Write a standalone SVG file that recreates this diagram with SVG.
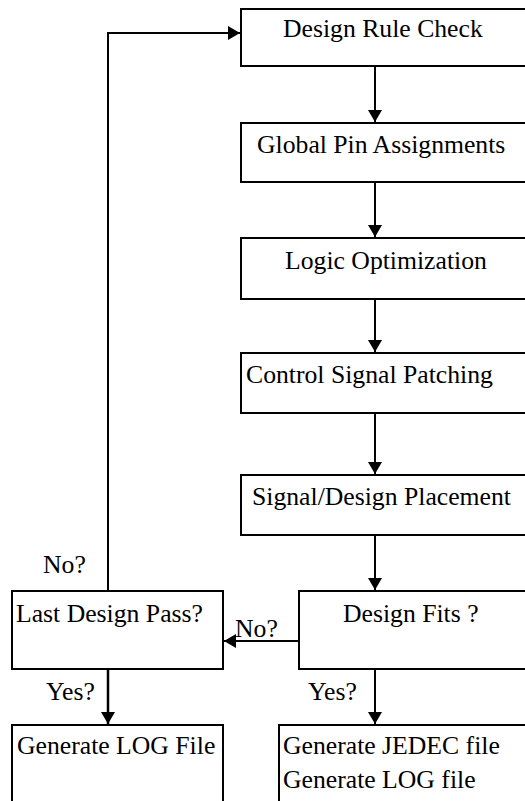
<svg xmlns="http://www.w3.org/2000/svg" width="525" height="801" viewBox="0 0 525 801">
<defs>
<style>
.box{fill:#fff;stroke:#000;stroke-width:2}
.c{fill:none;stroke:#000;stroke-width:2}
</style>
<marker id="ah" markerWidth="14" markerHeight="14" viewBox="0 0 12 14" refX="12" refY="7" orient="auto" markerUnits="userSpaceOnUse">
<path d="M0,0 L12,7 L0,14 z" fill="#000"/>
</marker>
</defs>
<rect width="525" height="801" fill="#fff"/>
<g font-family="Liberation Serif, serif" font-size="25.7" fill="#000">
<g id="connectors">
<path class="c" d="M375,66 V122" marker-end="url(#ah)"/>
<path class="c" d="M375,182 V237" marker-end="url(#ah)"/>
<path class="c" d="M375,299 V352" marker-end="url(#ah)"/>
<path class="c" d="M375,413 V474" marker-end="url(#ah)"/>
<path class="c" d="M375,535 V590" marker-end="url(#ah)"/>
<path class="c" d="M299,641 H224" marker-end="url(#ah)"/>
<path class="c" d="M108,591 V33 H240" marker-end="url(#ah)"/>
<path class="c" d="M108,669 V724" style="stroke-width:2.5" marker-end="url(#ah)"/>
<path class="c" d="M375,669 V724" marker-end="url(#ah)"/>
<text x="43" y="573">No?</text>
<text x="235" y="637">No?</text>
<text x="46" y="700">Yes?</text>
<text x="308" y="700">Yes?</text>
</g>
<g id="drc"><rect class="box" x="241" y="9" width="300" height="57"/><text x="283" y="37">Design Rule Check</text></g>
<g id="gpa"><rect class="box" x="241" y="123" width="300" height="59"/><text x="257" y="153">Global Pin Assignments</text></g>
<g id="lo"><rect class="box" x="241" y="238" width="300" height="61"/><text x="285" y="269">Logic Optimization</text></g>
<g id="csp"><rect class="box" x="241" y="353" width="300" height="60"/><text x="246" y="383">Control Signal Patching</text></g>
<g id="sdp"><rect class="box" x="241" y="475" width="300" height="60"/><text x="252" y="505">Signal/Design Placement</text></g>
<g id="df"><rect class="box" x="299" y="591" width="300" height="78"/><text x="343" y="622">Design Fits ?</text></g>
<g id="ldp"><rect class="box" x="12" y="591" width="211" height="78"/><text x="16" y="622">Last Design Pass?</text></g>
<g id="glog"><rect class="box" x="12" y="725" width="211" height="100"/><text x="17" y="754">Generate LOG File</text></g>
<g id="gjed"><rect class="box" x="279" y="725" width="300" height="100"/><text x="283" y="754">Generate JEDEC file</text><text x="283" y="788">Generate LOG file</text></g>
</g>
</svg>
